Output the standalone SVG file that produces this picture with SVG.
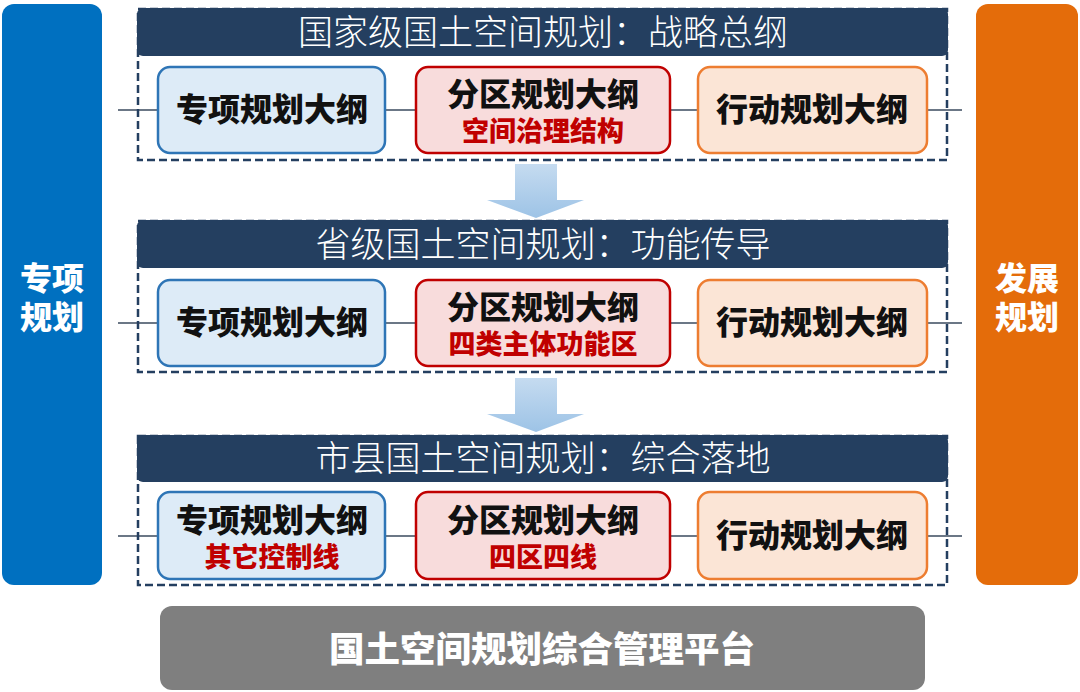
<svg xmlns="http://www.w3.org/2000/svg" width="1080" height="692" viewBox="0 0 1080 692">
<defs>
<linearGradient id="arrowGrad" x1="0" y1="0" x2="0" y2="1">
<stop offset="0" stop-color="#C5DBF0"/>
<stop offset="1" stop-color="#9DC3E6"/>
</linearGradient>
<style>
text{font-family:"Noto Sans CJK SC","Noto Sans",sans-serif;text-anchor:middle}
.side{fill:#fff;font-size:32px;font-weight:900}
.hdr{fill:#243F60}
.hdrt{fill:#fff;font-size:35px;font-weight:300}
.dash{fill:none;stroke:#243F60;stroke-width:2.5;stroke-dasharray:8 4}
.bx{stroke-width:2.5}
.blue{fill:#DDEBF7;stroke:#2E75B6}
.red{fill:#F8DCDC;stroke:#C00000}
.org{fill:#FBE5D6;stroke:#ED7D31}
.main{fill:#111;font-size:32px;font-weight:900}
.sub{fill:#C00000;font-size:27px;font-weight:900}
.conn{stroke:#3A4A5E;stroke-width:1.5}
</style>
</defs>
<rect width="1080" height="692" fill="#fff"/>

<g id="left-bar">
<rect x="2" y="4" width="100" height="581" rx="12" fill="#0070C0"/>
<text class="side" x="52" y="290">专项</text>
<text class="side" x="52" y="329">规划</text>
</g>
<g id="right-bar">
<rect x="976" y="4" width="102" height="581" rx="12" fill="#E46C0A"/>
<text class="side" x="1027" y="290">发展</text>
<text class="side" x="1027" y="329">规划</text>
</g>

<g id="connectors">
<line class="conn" x1="118" y1="110" x2="157" y2="110"/>
<line class="conn" x1="385" y1="110" x2="415" y2="110"/>
<line class="conn" x1="670" y1="110" x2="697" y2="110"/>
<line class="conn" x1="927" y1="110" x2="962" y2="110"/>
<line class="conn" x1="118" y1="323" x2="157" y2="323"/>
<line class="conn" x1="385" y1="323" x2="415" y2="323"/>
<line class="conn" x1="670" y1="323" x2="697" y2="323"/>
<line class="conn" x1="927" y1="323" x2="962" y2="323"/>
<line class="conn" x1="118" y1="536" x2="157" y2="536"/>
<line class="conn" x1="385" y1="536" x2="415" y2="536"/>
<line class="conn" x1="670" y1="536" x2="697" y2="536"/>
<line class="conn" x1="927" y1="536" x2="962" y2="536"/>
<polygon points="515,164 557,164 557,200 584,200 536,218 487,200 515,200" fill="url(#arrowGrad)"/>
<polygon points="515,378 557,378 557,414 584,414 536,432 487,414 515,414" fill="url(#arrowGrad)"/>
</g>

<g id="tier-national">
<rect class="dash" x="138" y="9" width="809" height="151"/>
<rect class="hdr" x="137" y="8" width="811" height="48" rx="6"/>
<text class="hdrt" x="543" y="45">国家级国土空间规划：战略总纲</text>
</g>
<g id="n-special">
<rect class="bx blue" x="158" y="67" width="227" height="86" rx="12"/>
<text class="main" x="272" y="121">专项规划大纲</text>
</g>
<g id="n-zoning">
<rect class="bx red" x="416" y="67" width="254" height="86" rx="12"/>
<text class="main" x="543" y="106">分区规划大纲</text>
<text class="sub" x="543" y="141">空间治理结构</text>
</g>
<g id="n-action">
<rect class="bx org" x="698" y="67" width="229" height="86" rx="12"/>
<text class="main" x="812" y="121">行动规划大纲</text>
</g>

<g id="tier-provincial">
<rect class="dash" x="138" y="221" width="809" height="151"/>
<rect class="hdr" x="137" y="220" width="811" height="48" rx="6"/>
<text class="hdrt" x="543" y="257">省级国土空间规划：功能传导</text>
</g>
<g id="p-special">
<rect class="bx blue" x="158" y="280" width="227" height="86" rx="12"/>
<text class="main" x="272" y="334">专项规划大纲</text>
</g>
<g id="p-zoning">
<rect class="bx red" x="416" y="280" width="254" height="86" rx="12"/>
<text class="main" x="543" y="319">分区规划大纲</text>
<text class="sub" x="543" y="354">四类主体功能区</text>
</g>
<g id="p-action">
<rect class="bx org" x="698" y="280" width="229" height="86" rx="12"/>
<text class="main" x="812" y="334">行动规划大纲</text>
</g>

<g id="tier-county">
<rect class="dash" x="138" y="436" width="809" height="149"/>
<rect class="hdr" x="137" y="435" width="811" height="47" rx="6"/>
<text class="hdrt" x="543" y="471">市县国土空间规划：综合落地</text>
</g>
<g id="c-special">
<rect class="bx blue" x="158" y="492" width="227" height="87" rx="12"/>
<text class="main" x="272" y="532">专项规划大纲</text>
<text class="sub" x="272" y="567">其它控制线</text>
</g>
<g id="c-zoning">
<rect class="bx red" x="416" y="492" width="254" height="87" rx="12"/>
<text class="main" x="543" y="532">分区规划大纲</text>
<text class="sub" x="543" y="567">四区四线</text>
</g>
<g id="c-action">
<rect class="bx org" x="698" y="492" width="229" height="87" rx="12"/>
<text class="main" x="812" y="547">行动规划大纲</text>
</g>

<g id="platform">
<rect x="160" y="606" width="765" height="84" rx="12" fill="#7F7F7F"/>
<text x="542" y="662" fill="#fff" font-size="35.5" font-weight="900">国土空间规划综合管理平台</text>
</g>
</svg>
